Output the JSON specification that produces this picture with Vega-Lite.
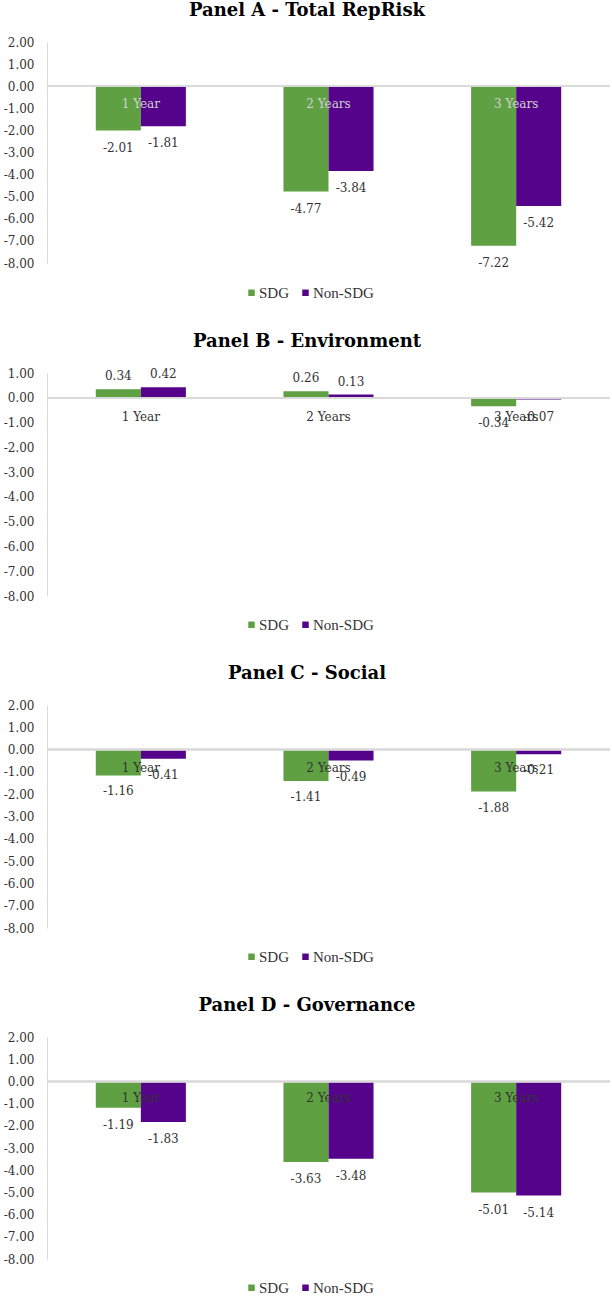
{
  "$schema": "https://vega.github.io/schema/vega-lite/v6.json",
  "padding": {"left": 3, "top": 2, "right": 0, "bottom": 0},
  "spacing": 32,
  "resolve": {"scale": {"color": "independent"}, "legend": {"color": "independent"}},
  "datasets": {
    "bars": [
      {"panel": "A", "horizon": "1 Year", "group": "SDG", "value": -2.01},
      {"panel": "A", "horizon": "1 Year", "group": "Non-SDG", "value": -1.81},
      {"panel": "A", "horizon": "2 Years", "group": "SDG", "value": -4.77},
      {"panel": "A", "horizon": "2 Years", "group": "Non-SDG", "value": -3.84},
      {"panel": "A", "horizon": "3 Years", "group": "SDG", "value": -7.22},
      {"panel": "A", "horizon": "3 Years", "group": "Non-SDG", "value": -5.42},
      {"panel": "B", "horizon": "1 Year", "group": "SDG", "value": 0.34},
      {"panel": "B", "horizon": "1 Year", "group": "Non-SDG", "value": 0.42},
      {"panel": "B", "horizon": "2 Years", "group": "SDG", "value": 0.26},
      {"panel": "B", "horizon": "2 Years", "group": "Non-SDG", "value": 0.13},
      {"panel": "B", "horizon": "3 Years", "group": "SDG", "value": -0.34},
      {"panel": "B", "horizon": "3 Years", "group": "Non-SDG", "value": -0.07},
      {"panel": "C", "horizon": "1 Year", "group": "SDG", "value": -1.16},
      {"panel": "C", "horizon": "1 Year", "group": "Non-SDG", "value": -0.41},
      {"panel": "C", "horizon": "2 Years", "group": "SDG", "value": -1.41},
      {"panel": "C", "horizon": "2 Years", "group": "Non-SDG", "value": -0.49},
      {"panel": "C", "horizon": "3 Years", "group": "SDG", "value": -1.88},
      {"panel": "C", "horizon": "3 Years", "group": "Non-SDG", "value": -0.21},
      {"panel": "D", "horizon": "1 Year", "group": "SDG", "value": -1.19},
      {"panel": "D", "horizon": "1 Year", "group": "Non-SDG", "value": -1.83},
      {"panel": "D", "horizon": "2 Years", "group": "SDG", "value": -3.63},
      {"panel": "D", "horizon": "2 Years", "group": "Non-SDG", "value": -3.48},
      {"panel": "D", "horizon": "3 Years", "group": "SDG", "value": -5.01},
      {"panel": "D", "horizon": "3 Years", "group": "Non-SDG", "value": -5.14}
    ]
  },
  "vconcat": [
    {
      "title": {"text": "Panel A - Total RepRisk"},
      "width": 563, "height": 221,
      "data": {"name": "bars"},
      "transform": [{"filter": "datum.panel == 'A'"}],
      "encoding": {
        "x": {"field": "horizon", "type": "nominal", "sort": ["1 Year", "2 Years", "3 Years"], "axis": null, "scale": {"paddingInner": 0.52, "paddingOuter": 0.26}},
        "y": {"field": "value", "type": "quantitative", "scale": {"domain": [-8, 2]}, "axis": {"values": [-8, -7, -6, -5, -4, -3, -2, -1, 0, 1, 2], "tickCount": 20, "labelOverlap": false}}
      },
      "layer": [
        {"mark": {"type": "bar"},
         "encoding": {
           "xOffset": {"field": "group", "type": "nominal", "sort": ["SDG", "Non-SDG"], "scale": {"paddingInner": 0, "paddingOuter": 0}},
           "color": {"field": "group", "type": "nominal", "sort": ["SDG", "Non-SDG"], "scale": {"domain": ["SDG", "Non-SDG"], "range": ["#5FA043", "#55038A"]}, "legend": {"orient": "none", "legendX": 197, "legendY": 243}}
         }},
        {"mark": {"type": "rule", "color": "#d9d9d9", "strokeWidth": 1.5}, "encoding": {"x": null, "y": {"datum": 0, "type": "quantitative"}}},
        {"transform": [{"filter": "datum.value < 0"}],
         "mark": {"type": "text", "baseline": "middle", "dy": 17, "font": "DejaVu Serif", "fontSize": 12, "color": "#333333"},
         "encoding": {
           "xOffset": {"field": "group", "type": "nominal", "sort": ["SDG", "Non-SDG"]},
           "text": {"field": "value", "type": "quantitative", "format": ".2f"}
         }},
        {"transform": [{"filter": "datum.group == 'SDG'"}],
         "mark": {"type": "text", "baseline": "middle", "dy": 18, "font": "DejaVu Serif", "fontSize": 12, "color": "#D0D0D0"},
         "encoding": {
           "y": {"datum": 0, "type": "quantitative"},
           "text": {"field": "horizon", "type": "nominal"}
         }}
      ]
    },
    {
      "title": {"text": "Panel B - Environment"},
      "width": 563, "height": 223,
      "data": {"name": "bars"},
      "transform": [{"filter": "datum.panel == 'B'"}],
      "encoding": {
        "x": {"field": "horizon", "type": "nominal", "sort": ["1 Year", "2 Years", "3 Years"], "axis": null, "scale": {"paddingInner": 0.52, "paddingOuter": 0.26}},
        "y": {"field": "value", "type": "quantitative", "scale": {"domain": [-8, 1]}, "axis": {"values": [-8, -7, -6, -5, -4, -3, -2, -1, 0, 1], "tickCount": 20, "labelOverlap": false}}
      },
      "layer": [
        {"mark": {"type": "bar"},
         "encoding": {
           "xOffset": {"field": "group", "type": "nominal", "sort": ["SDG", "Non-SDG"], "scale": {"paddingInner": 0, "paddingOuter": 0}},
           "color": {"field": "group", "type": "nominal", "sort": ["SDG", "Non-SDG"], "scale": {"domain": ["SDG", "Non-SDG"], "range": ["#5FA043", "#55038A"]}, "legend": {"orient": "none", "legendX": 197, "legendY": 244}}
         }},
        {"mark": {"type": "rule", "color": "#d9d9d9", "strokeWidth": 1.5}, "encoding": {"x": null, "y": {"datum": 0, "type": "quantitative"}}},
        {"transform": [{"filter": "datum.value < 0"}],
         "mark": {"type": "text", "baseline": "middle", "dy": 17, "font": "DejaVu Serif", "fontSize": 12, "color": "#333333"},
         "encoding": {
           "xOffset": {"field": "group", "type": "nominal", "sort": ["SDG", "Non-SDG"]},
           "text": {"field": "value", "type": "quantitative", "format": ".2f"}
         }},
        {"transform": [{"filter": "datum.value >= 0"}],
         "mark": {"type": "text", "baseline": "middle", "dy": -13, "font": "DejaVu Serif", "fontSize": 12, "color": "#333333"},
         "encoding": {
           "xOffset": {"field": "group", "type": "nominal", "sort": ["SDG", "Non-SDG"]},
           "text": {"field": "value", "type": "quantitative", "format": ".2f"}
         }},
        {"transform": [{"filter": "datum.group == 'SDG'"}],
         "mark": {"type": "text", "baseline": "middle", "dy": 19, "font": "DejaVu Serif", "fontSize": 12, "color": "#333333"},
         "encoding": {
           "y": {"datum": 0, "type": "quantitative"},
           "text": {"field": "horizon", "type": "nominal"}
         }}
      ]
    },
    {
      "title": {"text": "Panel C - Social"},
      "width": 563, "height": 223,
      "data": {"name": "bars"},
      "transform": [{"filter": "datum.panel == 'C'"}],
      "encoding": {
        "x": {"field": "horizon", "type": "nominal", "sort": ["1 Year", "2 Years", "3 Years"], "axis": null, "scale": {"paddingInner": 0.52, "paddingOuter": 0.26}},
        "y": {"field": "value", "type": "quantitative", "scale": {"domain": [-8, 2]}, "axis": {"values": [-8, -7, -6, -5, -4, -3, -2, -1, 0, 1, 2], "tickCount": 20, "labelOverlap": false}}
      },
      "layer": [
        {"mark": {"type": "bar"},
         "encoding": {
           "xOffset": {"field": "group", "type": "nominal", "sort": ["SDG", "Non-SDG"], "scale": {"paddingInner": 0, "paddingOuter": 0}},
           "color": {"field": "group", "type": "nominal", "sort": ["SDG", "Non-SDG"], "scale": {"domain": ["SDG", "Non-SDG"], "range": ["#5FA043", "#55038A"]}, "legend": {"orient": "none", "legendX": 197, "legendY": 244}}
         }},
        {"mark": {"type": "rule", "color": "#d9d9d9", "strokeWidth": 1.5}, "encoding": {"x": null, "y": {"datum": 0, "type": "quantitative"}}},
        {"transform": [{"filter": "datum.value < 0"}],
         "mark": {"type": "text", "baseline": "middle", "dy": 16, "font": "DejaVu Serif", "fontSize": 12, "color": "#333333"},
         "encoding": {
           "xOffset": {"field": "group", "type": "nominal", "sort": ["SDG", "Non-SDG"]},
           "text": {"field": "value", "type": "quantitative", "format": ".2f"}
         }},
        {"transform": [{"filter": "datum.group == 'SDG'"}],
         "mark": {"type": "text", "baseline": "middle", "dy": 18, "font": "DejaVu Serif", "fontSize": 12, "color": "#333333"},
         "encoding": {
           "y": {"datum": 0, "type": "quantitative"},
           "text": {"field": "horizon", "type": "nominal"}
         }}
      ]
    },
    {
      "title": {"text": "Panel D -  Governance"},
      "width": 563, "height": 222,
      "data": {"name": "bars"},
      "transform": [{"filter": "datum.panel == 'D'"}],
      "encoding": {
        "x": {"field": "horizon", "type": "nominal", "sort": ["1 Year", "2 Years", "3 Years"], "axis": null, "scale": {"paddingInner": 0.52, "paddingOuter": 0.26}},
        "y": {"field": "value", "type": "quantitative", "scale": {"domain": [-8, 2]}, "axis": {"values": [-8, -7, -6, -5, -4, -3, -2, -1, 0, 1, 2], "tickCount": 20, "labelOverlap": false}}
      },
      "layer": [
        {"mark": {"type": "bar"},
         "encoding": {
           "xOffset": {"field": "group", "type": "nominal", "sort": ["SDG", "Non-SDG"], "scale": {"paddingInner": 0, "paddingOuter": 0}},
           "color": {"field": "group", "type": "nominal", "sort": ["SDG", "Non-SDG"], "scale": {"domain": ["SDG", "Non-SDG"], "range": ["#5FA043", "#55038A"]}, "legend": {"orient": "none", "legendX": 197, "legendY": 243}}
         }},
        {"mark": {"type": "rule", "color": "#d9d9d9", "strokeWidth": 1.5}, "encoding": {"x": null, "y": {"datum": 0, "type": "quantitative"}}},
        {"transform": [{"filter": "datum.value < 0"}],
         "mark": {"type": "text", "baseline": "middle", "dy": 17, "font": "DejaVu Serif", "fontSize": 12, "color": "#333333"},
         "encoding": {
           "xOffset": {"field": "group", "type": "nominal", "sort": ["SDG", "Non-SDG"]},
           "text": {"field": "value", "type": "quantitative", "format": ".2f"}
         }},
        {"transform": [{"filter": "datum.group == 'SDG'"}],
         "mark": {"type": "text", "baseline": "middle", "dy": 17, "font": "DejaVu Serif", "fontSize": 12, "color": "#333333"},
         "encoding": {
           "y": {"datum": 0, "type": "quantitative"},
           "text": {"field": "horizon", "type": "nominal"}
         }}
      ]
    }
  ],
  "config": {
    "locale": {"number": {"decimal": ".", "thousands": ",", "grouping": [3], "currency": ["$", ""], "minus": "-"}},
    "view": {"stroke": null},
    "title": {"font": "DejaVu Serif", "fontWeight": "bold", "fontSize": 18, "color": "#000000", "anchor": "middle", "frame": "bounds", "baseline": "alphabetic", "offset": 16},
    "axisY": {"title": null, "grid": false, "ticks": false, "format": ".2f", "labelOverlap": false, "domainColor": "#d9d9d9", "domainWidth": 1, "labelFont": "DejaVu Serif", "labelFontSize": 12, "labelColor": "#333333", "labelPadding": 13},
    "legend": {"title": null, "direction": "horizontal", "symbolType": "square", "symbolSize": 42, "symbolStrokeWidth": 0, "labelFont": "Liberation Serif", "labelFontSize": 15, "labelColor": "#333333", "columnPadding": 8, "labelOffset": 0}
  }
}
